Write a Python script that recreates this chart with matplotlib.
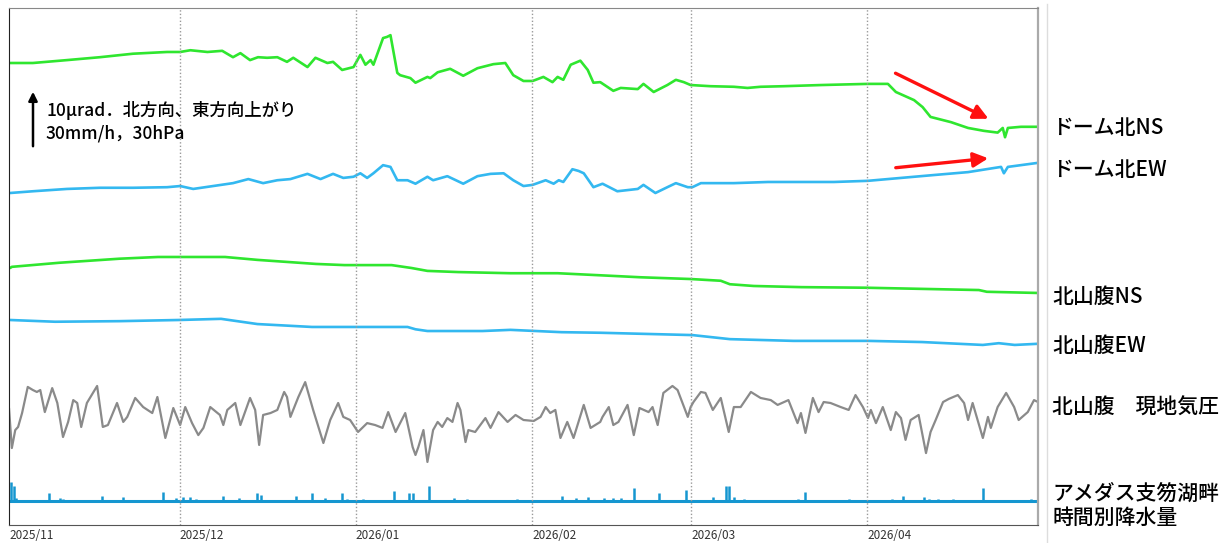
import numpy as np
import pandas as pd
import matplotlib
matplotlib.use('Agg')
import matplotlib.pyplot as plt
from matplotlib.lines import Line2D

plt.rcParams['font.family'] = ['Noto Sans CJK JP', 'DejaVu Sans']

# ---------------- data ----------------
START = pd.Timestamp('2025-11-01')
END = pd.Timestamp('2026-05-01')
month_ticks = pd.date_range('2025-11-01', '2026-04-01', freq='MS')
tick_labels = ['2025/11', '2025/12', '2026/01', '2026/02', '2026/03', '2026/04']

series_labels = ['ドーム北NS', 'ドーム北EW', '北山腹NS', '北山腹EW',
                 '北山腹\u3000現地気圧', 'アメダス支笏湖畔\n時間別降水量']

# tilt change (μrad), days since 2025-11-01
dome_ns_day = [0.2, 4.2, 10.2, 16.0, 21.8, 27.8, 30.1, 31.9, 34.9, 37.5, 39.4, 40.7, 42.4, 43.8,
               45.4, 47.2, 48.9, 50.0, 52.5, 53.9, 56.0, 57.0, 58.6, 60.6, 61.8, 62.7, 63.6, 64.1,
               65.8, 66.5, 67.1, 68.3, 68.8, 70.6, 71.5, 73.6, 74.1, 75.4, 77.6, 79.9, 82.4, 85.2,
               87.3, 88.7, 90.5, 92.1, 94.0, 95.6, 96.5, 97.5, 98.8, 100.5, 101.8, 102.8, 104.0,
               106.3, 107.6, 110.6, 111.6, 113.4, 115.8, 117.3, 118.7, 119.9, 123.4, 127.5, 129.9,
               132.2, 136.3, 142.8, 151.1, 154.6, 156.0, 159.2, 160.7, 162.1, 165.7, 168.7, 171.5,
               173.9, 174.8, 175.2, 175.7, 178.0, 181.0]
dome_ns_val = [0.0, 0.0, 0.5, 1.0, 1.6, 1.9, 1.9, 2.2, 1.9, 2.1, 1.0, 1.7, 0.5, 1.0,
               0.9, 1.0, 0.2, 0.9, -0.7, 0.9, 0.0, 0.2, -1.2, -0.7, 1.4, -0.3, 0.5, -0.3,
               4.3, 4.5, 4.8, -1.7, -2.1, -2.6, -3.4, -2.4, -2.6, -1.6, -1.0, -2.2, -0.9, -0.2,
               0.0, -2.1, -3.1, -3.1, -2.4, -3.3, -2.4, -2.9, -0.3, 0.4, -1.2, -3.4, -3.3,
               -4.8, -4.3, -4.5, -3.6, -5.0, -3.8, -2.9, -3.3, -3.8, -4.0, -4.1, -4.3,
               -4.1, -4.0, -3.8, -3.6, -3.6, -5.0, -6.4, -7.6, -9.3, -10.2, -11.2, -11.7,
               -12.0, -11.2, -12.8, -11.2, -11.0, -11.0]

dome_ew_day = [0.2, 4.2, 10.2, 16.0, 21.8, 27.8, 30.1, 32.4, 35.9, 39.4, 42.1, 44.7, 47.2, 49.5,
               52.5, 54.8, 57.0, 58.8, 60.6, 61.8, 63.0, 64.1, 65.8, 67.1, 68.3, 70.1, 71.5, 73.6,
               74.6, 77.1, 79.9, 82.4, 84.7, 87.0, 88.7, 90.5, 92.1, 94.4, 95.8, 96.7, 97.5, 99.1,
               100.2, 101.1, 102.8, 104.4, 107.0, 110.6, 111.6, 113.7, 115.8, 117.3, 119.4, 120.2,
               121.7, 127.5, 133.5, 139.3, 145.1, 151.1, 156.9, 162.7, 168.7, 173.2, 174.5, 175.0,
               175.7, 181.0]
dome_ew_val = [0.0, 0.3, 0.7, 0.9, 0.9, 1.0, 1.2, 0.7, 1.2, 1.7, 2.4, 1.7, 2.2, 2.4,
               3.3, 2.4, 3.3, 2.6, 2.8, 3.4, 2.6, 3.4, 4.8, 4.5, 2.2, 2.2, 1.6, 2.8,
               2.2, 2.9, 1.6, 2.9, 3.3, 3.4, 2.2, 1.2, 1.4, 2.2, 1.6, 2.2, 1.9, 4.1,
               3.8, 3.4, 1.0, 1.6, 0.3, 0.7, 1.4, 0.0, 1.0, 1.7, 1.0, 1.0,
               1.7, 1.7, 1.9, 1.9, 1.9, 2.1, 2.6, 3.1, 3.6, 4.3, 4.5, 3.4,
               4.5, 5.2]

flank_ns_day = [0.2, 0.5, 8.8, 19.4, 26.2, 30.1, 38.0, 43.7, 54.0, 59.0, 67.3, 70.8, 73.6, 79.0,
                88.2, 96.5, 102.8, 107.0, 111.1, 119.9, 125.2, 126.8, 131.0, 139.4, 150.7, 160.6,
                170.6, 172.0, 180.8]
flank_ns_val = [0.0, 0.2, 0.9, 1.6, 1.9, 1.9, 1.9, 1.4, 0.7, 0.5, 0.5, 0.0, -0.5, -0.7,
                -0.9, -0.9, -1.2, -1.4, -1.6, -1.9, -2.2, -2.8, -3.1, -3.3, -3.4, -3.6,
                -3.8, -4.1, -4.3]

flank_ew_day = [0.2, 8.1, 19.4, 29.8, 37.3, 43.7, 53.3, 70.1, 71.5, 73.6, 83.3, 88.2, 97.2, 104.0,
                120.2, 126.8, 138.0, 151.1, 160.6, 171.3, 174.1, 176.9, 181.0]
flank_ew_val = [0.0, -0.3, -0.2, 0.0, 0.2, -0.7, -1.2, -1.2, -1.6, -1.9, -1.9, -1.7, -2.1, -2.2,
                -2.6, -3.3, -3.6, -3.6, -3.8, -4.3, -4.0, -4.3, -4.1]

# station pressure (hPa)
pres_day = [0.0, 0.5, 1.1, 1.6, 2.3, 3.3, 4.2, 4.9, 5.5, 6.3, 7.6, 8.5, 9.5, 10.4, 11.3, 12.0, 12.7,
            13.7, 15.5, 16.5, 17.4, 19.0, 20.1, 20.8, 22.2, 23.6, 25.2, 26.1, 27.5, 28.9, 30.1,
            31.0, 32.2, 33.3, 34.2, 35.4, 37.1, 37.7, 38.4, 39.8, 40.7, 42.4, 43.3, 44.0, 44.7,
            46.0, 47.2, 48.4, 48.9, 49.5, 50.9, 52.1, 53.5, 55.3, 56.5, 57.9, 58.8, 60.0, 61.4,
            63.0, 64.4, 65.7, 66.7, 68.0, 69.7, 71.0, 71.5, 72.0, 72.9, 73.6, 74.6, 75.4, 76.2,
            77.1, 78.0, 78.9, 79.4, 80.3, 80.8, 82.0, 83.8, 84.7, 86.1, 87.7, 89.1, 90.5, 92.3,
            93.5, 94.4, 95.2, 96.1, 97.0, 98.2, 99.3, 101.1, 102.3, 104.0, 104.4, 105.5, 106.3,
            107.2, 108.8, 109.9, 110.9, 112.5, 113.2, 114.1, 115.1, 116.7, 117.6, 119.4, 119.9,
            120.4, 121.7, 122.5, 123.8, 125.2, 126.6, 127.5, 128.7, 130.5, 132.2, 134.0, 135.2,
            137.1, 138.7, 139.3, 140.1, 141.4, 142.4, 143.3, 144.5, 146.3, 147.7, 148.9, 150.2,
            151.1, 151.6, 152.5, 153.7, 155.1, 156.0, 156.9, 157.7, 158.6, 160.0, 161.3, 162.1,
            163.0, 164.3, 165.3, 166.9, 168.0, 168.7, 169.5, 171.3, 172.2, 172.7, 173.9, 175.4,
            176.8, 177.6, 179.2, 180.3, 181.0]
pres_val = [936.2, 915.5, 924.8, 926.4, 933.6, 947.1, 945.5, 944.5, 945.5, 934.1, 946.5, 938.8, 921.2,
            929.0, 940.3, 938.8, 926.4, 938.8, 947.6, 926.4, 927.4, 938.8, 929.0, 931.6, 941.4, 936.7,
            933.6, 941.9, 920.7, 936.2, 927.4, 936.7, 928.4, 922.2, 925.9, 936.7, 932.6, 927.4, 935.2,
            938.8, 927.4, 941.4, 935.2, 917.1, 932.6, 933.6, 935.2, 944.5, 941.9, 931.6, 941.9, 949.6,
            935.2, 918.1, 930.0, 938.8, 931.6, 930.0, 923.8, 928.4, 927.4, 925.9, 934.1, 923.8, 933.6,
            916.0, 911.9, 916.0, 924.8, 908.3, 924.8, 929.0, 926.4, 931.0, 929.0, 938.8, 935.2, 918.6,
            924.8, 923.8, 931.0, 925.9, 934.1, 929.0, 932.6, 930.0, 929.5, 931.6, 936.7, 933.6, 935.2,
            920.7, 929.0, 920.7, 937.8, 925.9, 929.0, 931.6, 936.7, 927.4, 929.0, 937.8, 922.2, 936.2,
            934.1, 936.7, 927.4, 944.0, 947.6, 945.5, 931.6, 936.7, 939.3, 944.5, 944.0, 935.2, 941.4,
            923.8, 936.7, 936.7, 944.5, 941.4, 940.3, 937.8, 940.3, 928.4, 933.6, 923.3, 941.4, 934.1,
            939.3, 938.8, 936.7, 935.2, 942.9, 936.7, 931.0, 935.2, 928.4, 936.7, 924.8, 934.1, 931.0,
            919.7, 930.0, 932.6, 912.9, 923.8, 930.0, 939.3, 940.9, 942.9, 938.8, 930.0, 938.8, 920.7,
            931.6, 925.9, 936.7, 944.0, 936.7, 930.0, 934.1, 940.3, 939.3]

# hourly precipitation (mm/h)
rain_day = [0.4, 0.8, 1.2, 7.0, 9.0, 9.5, 16.4, 20.1, 27.1, 29.4, 30.6, 31.9, 32.9, 37.7, 40.5,
            43.7, 44.4, 50.4, 53.3, 55.6, 58.5, 59.5, 62.3, 67.8, 70.4, 71.1, 73.8, 78.2, 80.6,
            89.4, 97.2, 99.8, 101.9, 104.6, 106.3, 107.6, 109.9, 114.3, 119.0, 123.8, 126.1,
            126.6, 127.5, 129.2, 138.7, 140.0, 147.7, 155.3, 157.2, 160.9, 161.8, 163.4, 166.0,
            171.3, 179.8]
rain_val = [9.8, 8.0, 1.6, 4.1, 1.6, 1.0, 2.6, 2.1, 4.7, 1.6, 2.1, 2.1, 1.0, 2.6, 1.6,
            4.1, 3.1, 2.6, 4.1, 1.6, 4.1, 1.0, 1.0, 5.2, 4.1, 4.1, 7.8, 1.6, 1.0,
            1.0, 2.6, 1.6, 2.1, 1.6, 1.6, 1.6, 6.7, 4.1, 5.7, 2.1, 7.8,
            7.8, 2.1, 1.0, 1.0, 4.7, 1.0, 1.0, 2.6, 2.1, 1.0, 1.0, 1.0,
            6.7, 1.0]


def to_dates(days):
    return START + pd.to_timedelta(np.asarray(days, dtype=float), unit='D')


# ---------------- layout / style ----------------
W, H = 1229, 543
AX_L, AX_R, AX_T, AX_B = 9, 1038, 8, 525
PX_PER_UNIT = 5.8          # 10 μrad (= 30 hPa = 30 mm/h) ≈ 58 px
P_REF = 930.0


def base_at(ypx):
    return (AX_B - ypx) / PX_PER_UNIT


GREEN = '#2fe62f'
BLUE = '#33b8f0'
GRAY = '#8a8a8a'
RAIN = '#1596d0'

fig = plt.figure(figsize=(W / 100, H / 100), dpi=100)
ax = fig.add_axes([AX_L / W, 1 - AX_B / H, (AX_R - AX_L) / W, (AX_B - AX_T) / H])
ax.set_xlim(START, END)
ax.set_ylim(0, (AX_B - AX_T) / PX_PER_UNIT)

kw = dict(solid_joinstyle='round', solid_capstyle='round')
ax.plot(to_dates(dome_ns_day), base_at(63) + np.array(dome_ns_val), color=GREEN, lw=1.9, **kw)
ax.plot(to_dates(dome_ew_day), base_at(193) + np.array(dome_ew_val), color=BLUE, lw=1.9, **kw)
ax.plot(to_dates(flank_ns_day), base_at(268) + np.array(flank_ns_val), color=GREEN, lw=1.9, **kw)
ax.plot(to_dates(flank_ew_day), base_at(320) + np.array(flank_ew_val), color=BLUE, lw=1.9, **kw)
ax.plot(to_dates(pres_day), base_at(420) + (np.array(pres_val) - P_REF) / 3.0,
        color=GRAY, lw=1.6, **kw)

rain_base = base_at(501)
ax.vlines(to_dates(rain_day), rain_base, rain_base + np.array(rain_val) / 3.0, color=RAIN, lw=1.8)
ax.axhline(rain_base, color=RAIN, lw=2.2)

for m in month_ticks[1:]:
    ax.axvline(m, color='#9a9a9a', lw=1.0, ls=(0, (1, 1.5)))

ax.set_yticks([])
ax.set_xticks(month_ticks)
ax.set_xticklabels(tick_labels, ha='left')
ax.tick_params(axis='x', length=0, pad=3, labelsize=8.5, labelcolor='#333333')

ax.spines['left'].set_color('#222222')
ax.spines['bottom'].set_color('#555555')
ax.spines['top'].set_color('#888888')
ax.spines['right'].set_color('#aaaaaa')
ax.spines['right'].set_linewidth(1.6)


def fx(x):
    return x / W


def fy(y):
    return 1 - y / H


# right-hand labels
label_y = [128, 170, 297, 346, 408, 506]
for txt, yy in zip(series_labels, label_y):
    fig.text(fx(1052), fy(yy), txt, fontsize=15, fontweight='medium', va='center', ha='left',
             color='#000000', linespacing=1.12)

# separator line
fig.add_artist(Line2D([fx(1047), fx(1047)], [0, fy(4)], color='#dddddd', lw=1))

# scale annotation
ax.annotate('', xy=(33, H - 89), xytext=(33, H - 149), xycoords='figure pixels',
            textcoords='figure pixels',
            arrowprops=dict(arrowstyle='-|>', color='black', lw=1.8, mutation_scale=13))
fig.text(fx(46), fy(110), '10μrad．北方向、東方向上がり', fontsize=12.5, fontweight='medium',
         va='center', ha='left')
fig.text(fx(46), fy(133), '30mm/h，30hPa', fontsize=12.5, fontweight='medium',
         va='center', ha='left')

# red arrows
ax.annotate('', xy=(991, H - 120), xytext=(893, H - 72), xycoords='figure pixels',
            textcoords='figure pixels',
            arrowprops=dict(arrowstyle='-|>', color='#ff1010', lw=2.4, mutation_scale=22))
ax.annotate('', xy=(991, H - 158), xytext=(893, H - 168), xycoords='figure pixels',
            textcoords='figure pixels',
            arrowprops=dict(arrowstyle='-|>', color='#ff1010', lw=2.4, mutation_scale=22))

fig.savefig('out.png', dpi=100)
